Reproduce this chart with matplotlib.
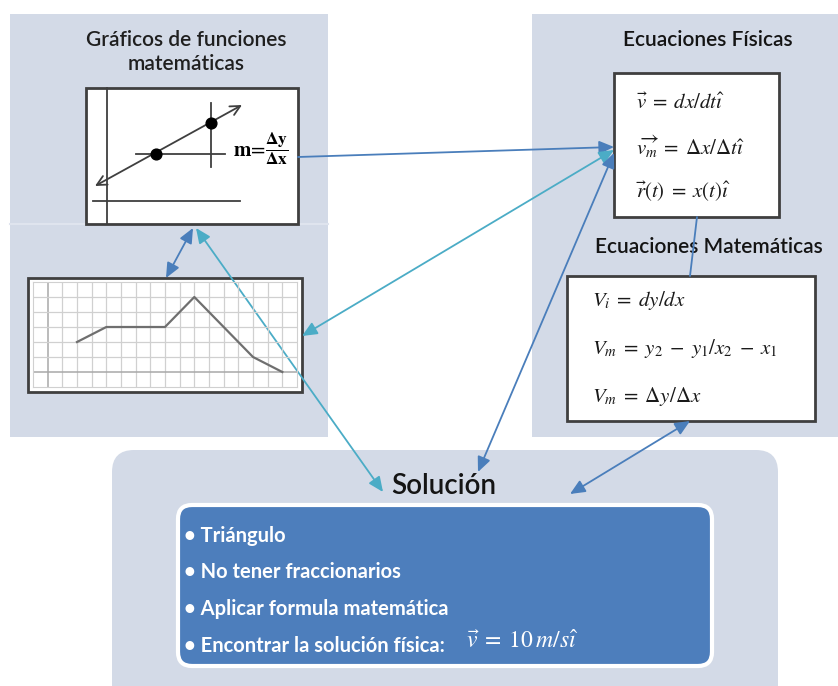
import matplotlib
matplotlib.use("Agg")
import matplotlib.pyplot as plt
from matplotlib.patches import Rectangle, FancyBboxPatch, FancyArrowPatch

plt.rcParams['mathtext.fontset'] = 'stix'
plt.rcParams['font.family'] = ['Lato', 'DejaVu Sans']

# ---------------- data ----------------
title_graficos = "Gráficos de funciones\nmatemáticas"
title_fisicas = "Ecuaciones Físicas"
title_matematicas = "Ecuaciones Matemáticas"
title_solucion = "Solución"

eq_fisicas = [r"$\vec{v}\;=\;dx/dt\hat{\imath}$",
              r"$\overrightarrow{v_m}\;=\;\Delta x/\Delta t\hat{\imath}$",
              r"$\vec{r}(t)\;=\;x(t)\hat{\imath}$"]
eq_matematicas = [r"$V_i\;=\;dy/dx$",
                  r"$V_m\;=\;y_2\;-\;y_1/x_2\;-\;x_1$",
                  r"$V_m\;=\;\Delta y/\Delta x$"]
bullets = ["• Triángulo", "• No tener fraccionarios",
           "• Aplicar formula matemática", "• Encontrar la solución física:"]
eq_solucion = r"$\vec{v}\;=\;10\,m/s\hat{\imath}$"
slope_lhs = r"$\mathbf{m}\!=$"
slope_frac = r"$\dfrac{\mathbf{\Delta y}}{\mathbf{\Delta x}}$"

# line chart in the grid graph (grid units)
grid_x = [3, 5, 9, 11, 15, 17]
grid_y = [3, 4, 4, 6, 2, 1]
grid_cols = 18
grid_rows = 7

# slope graph points (pixel space of the diagram)
slope_pts_x = [156, 211]
slope_pts_y = [154, 123]

# ---------------- figure ----------------
W, H = 838, 686
fig = plt.figure(figsize=(W / 100, H / 100), dpi=100)
ax = fig.add_axes([0, 0, 1, 1])
ax.set_xlim(0, W)
ax.set_ylim(H, 0)
ax.axis('off')

panel = '#d3dae7'
dark = '#3f3f3f'
blue = '#4a7ebb'
cyan = '#4bacc6'
boxblue = '#4d7ebc'

# panels
ax.add_patch(Rectangle((10, 14), 318, 423, fc=panel, ec='none', zorder=1))
ax.plot([10, 328], [224, 224], color='#dfe4ee', lw=1.5, zorder=1.5)
ax.add_patch(Rectangle((532, 14), 306, 423, fc=panel, ec='none', zorder=1))
ax.add_patch(FancyBboxPatch((132, 470), 626, 240, boxstyle='round,pad=20,rounding_size=22',
                            fc=panel, ec='none', zorder=1))

# titles
tkw = dict(ha='center', va='center', fontweight='semibold', zorder=5)
ax.text(186, 52, title_graficos, fontsize=15, color='#1f1f1f', linespacing=1.2, **tkw)
ax.text(708, 40, title_fisicas, fontsize=15, color='#141414', **tkw)
ax.text(709, 247, title_matematicas, fontsize=15, color='#141414', **tkw)
ax.text(444, 486, title_solucion, fontsize=20, color='#141414', **tkw)

# ---- graph 1 (slope) ----
ax.add_patch(Rectangle((86, 88), 212, 136, fc='white', ec=dark, lw=2, zorder=3))
ax.plot([107, 107], [88, 224], color=dark, lw=1.3, zorder=4)
ax.plot([93, 240], [201, 201], color=dark, lw=1.3, zorder=4)
ax.plot([136, 225], [slope_pts_y[0], slope_pts_y[0]], color=dark, lw=1.3, zorder=4)
ax.plot([slope_pts_x[1], slope_pts_x[1]], [103, 167], color=dark, lw=1.3, zorder=4)
ax.add_patch(FancyArrowPatch((95, 186), (242, 105), arrowstyle='<->,head_length=7,head_width=3.5',
                             color=dark, lw=1.3, zorder=4, shrinkA=0, shrinkB=0))
ax.scatter(slope_pts_x, slope_pts_y, s=60, color='black', zorder=5)
ax.text(233, 150, slope_lhs, ha='left', va='center', fontsize=15, color='black', zorder=5)
ax.text(277, 149, slope_frac, ha='center', va='center', fontsize=12.5, color='black', zorder=5)

# ---- graph 2 (grid chart) ----
ax.add_patch(Rectangle((28, 278), 274, 114, fc='white', ec=dark, lw=2, zorder=3))
gax = fig.add_axes([33 / W, 1 - 387 / H, 264 / W, 105 / H], zorder=4)
gax.set_xlim(0, grid_cols)
gax.set_ylim(0, grid_rows)
for i in range(1, grid_cols):
    gax.axvline(i, color='#a8a8a8' if i == 1 else '#d0d0d0', lw=1.1 if i == 1 else 0.9)
for j in range(1, grid_rows):
    gax.axhline(j, color='#a8a8a8' if j == 1 else '#d0d0d0', lw=1.1 if j == 1 else 0.9)
gax.plot(grid_x, grid_y, color='#6f6f6f', lw=1.6)
gax.set_xticks([]); gax.set_yticks([])
for s in gax.spines.values():
    s.set_color('#d0d0d0')
gax.patch.set_alpha(0)

# ---- physics equations ----
ax.add_patch(Rectangle((614, 73), 165, 144, fc='white', ec=dark, lw=2, zorder=3))
for k, eq in enumerate(eq_fisicas):
    ax.text(636, 103 + 44 * k, eq, ha='left', va='center', fontsize=15, color='#1a1a1a', zorder=5)

# ---- math equations ----
ax.add_patch(Rectangle((567, 276), 248, 145, fc='white', ec=dark, lw=2, zorder=3))
for k, eq in enumerate(eq_matematicas):
    ax.text(592, 301 + 48 * k, eq, ha='left', va='center', fontsize=15, color='#1a1a1a', zorder=5)

# ---- solution box ----
ax.add_patch(FancyBboxPatch((188, 515), 514, 141, boxstyle='round,pad=10,rounding_size=14',
                            fc=boxblue, ec='white', lw=3, zorder=3))
for k, b in enumerate(bullets):
    ax.text(184, 536 + 36.5 * k, b, ha='left', va='center', fontsize=14.5, color='white',
            fontweight='bold', zorder=5)
ax.text(466, 641, eq_solucion, ha='left', va='center', fontsize=17, color='white', zorder=5)

# ---- connectors ----
def arrow(p, q, color, style):
    ax.add_patch(FancyArrowPatch(p, q, arrowstyle=style, color=color, lw=1.3,
                                 shrinkA=0, shrinkB=0, zorder=6))

hs = ',head_length=9,head_width=4'
arrow((298, 157), (614, 147), blue, '-|>' + hs)
arrow((302, 336), (614, 150), cyan, '<|-|>' + hs)
arrow((478, 472), (614, 153), blue, '<|-|>' + hs)
arrow((697, 217), (690, 276), blue, '-')
arrow((570, 494), (690, 421), blue, '<|-|>' + hs)
arrow((193, 228), (166, 278), blue, '<|-|>' + hs)
arrow((196, 228), (383, 492), cyan, '<|-|>' + hs)

fig.savefig('out.png', dpi=100, facecolor='white')
